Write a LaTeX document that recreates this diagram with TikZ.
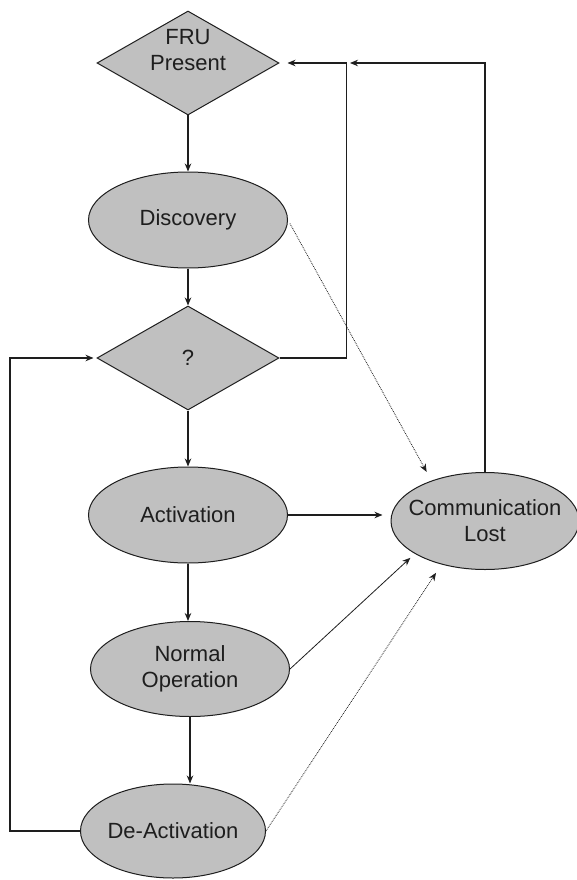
\documentclass[tikz,border=0pt]{standalone}
\usepackage{fontspec}
\setmainfont{Liberation Sans}
\usepackage{tikz}
\usetikzlibrary{arrows.meta,shapes.geometric}
\definecolor{shade}{HTML}{C0C0C0}
\definecolor{ink}{HTML}{1E1E1E}

\begin{document}
\begin{tikzpicture}[x=1pt,y=-1pt,
  state/.style={ellipse,draw=ink,line width=1pt,fill=shade,inner sep=0pt,align=center,
                text=ink,minimum width=199pt,minimum height=96pt,
                font=\fontsize{22}{26}\selectfont},
  decide/.style={diamond,draw=ink,line width=1pt,fill=shade,inner sep=0pt,align=center,
                 text=ink,minimum width=182pt,minimum height=104pt,
                 font=\fontsize{22}{26}\selectfont},
  flow/.style={draw=ink,line width=1.2pt,-{Stealth[length=8pt,width=6.5pt]}},
  side/.style={flow,line width=0.8pt},
]
  \useasboundingbox[fill=white] (0,0) rectangle (576,880);

  \node[decide,label={[align=center,text=ink,yshift=13pt,
        font=\fontsize{22}{26}\selectfont]center:FRU\\Present}] (fru) at (188,63) {};
  \node[state] (disc) at (188,220) {Discovery};
  \node[decide] (q) at (188,358) {?};
  \node[state] (act) at (188,515) {Activation};
  \node[state,inner xsep=-12pt,minimum width=188pt,minimum height=97pt] (comm)
    at (485,521) {Communication\\Lost};
  \node[state,minimum height=95pt] (norm) at (190,669) {Normal\\Operation};
  \node[state,minimum width=181pt,minimum height=94pt] (deact) at (173,831)
    {De-Activation};
  \coordinate (meet) at (350,63);

  \draw[flow] (fru.south) -- (fru.south |- disc.north);
  \draw[flow] (disc.south) -- (disc.south |- q.north);
  \draw[flow] (q.south) -- (q.south |- act.north);
  \draw[flow] (act.south) -- (act.south |- norm.north);
  \draw[flow] (norm.south) -- (norm.south |- deact.north);
  \draw[flow,shorten >=8pt] (act.east) -- (act.east -| comm.west);
  \draw[flow,shorten >=8pt] (q.east) -- ++(67,0) |- (fru.east);
  \draw[flow] (comm.north) |- (meet);
  \draw[flow,shorten >=3pt] (deact.west) -- ++(-70,0) |- (q.west);
  \draw[side,shorten >=6pt] (norm.east) -- (comm.205);
  \draw[side,densely dotted,shorten <=4pt,shorten >=10pt] (disc.east) -- (comm.143);
  \draw[side,densely dotted,shorten >=10pt] (deact.east) -- (comm.225);
\end{tikzpicture}
\end{document}
